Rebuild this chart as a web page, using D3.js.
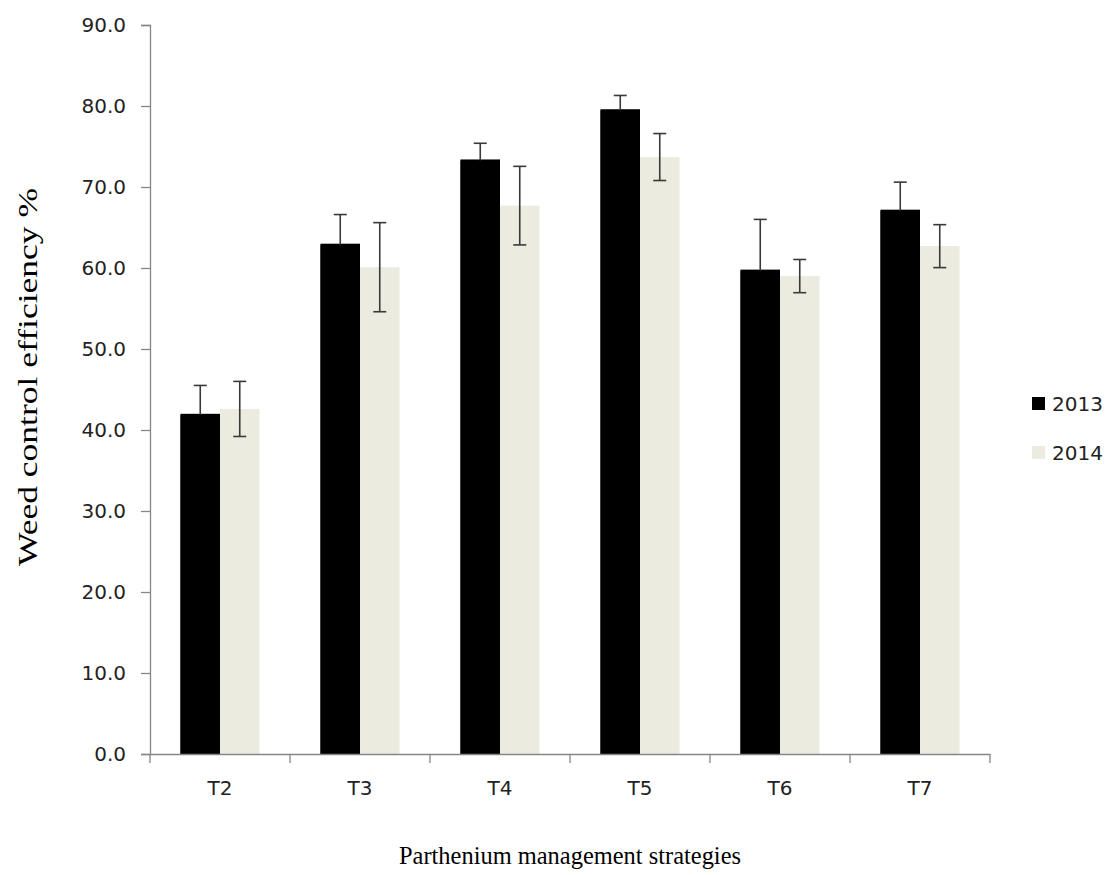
<!DOCTYPE html>
<html>
<head>
<meta charset="utf-8">
<script src="https://cdn.jsdelivr.net/npm/d3@7"></script>
<style>
  body { margin: 0; background: #fff; }
</style>
</head>
<body>
<script>
// data
var categories = ["T2", "T3", "T4", "T5", "T6", "T7"];
var years = ["2013", "2014"];
var values2013 = [42.0, 63.0, 73.4, 79.6, 59.8, 67.2];
var values2014 = [42.6, 60.1, 67.7, 73.7, 59.0, 62.7];
var err2013 = [3.5, 3.6, 2.0, 1.7, 6.2, 3.4];
var err2014 = [3.4, 5.5, 4.85, 2.9, 2.05, 2.65];
var yTicks = [0, 10, 20, 30, 40, 50, 60, 70, 80, 90];
var colors = {"2013": "#000000", "2014": "#ecebe0"};

var width = 1109, height = 875;
var plotLeft = 150, plotRight = 990, plotTop = 25, plotBottom = 754;

var svg = d3.select("body").append("svg")
    .attr("width", width)
    .attr("height", height);

var x0 = d3.scaleBand().domain(categories).range([plotLeft, plotRight])
    .paddingInner(0.4357).paddingOuter(0.4357 / 2);
var x1 = d3.scaleBand().domain(years).range([0, x0.bandwidth()]);
var y = d3.scaleLinear().domain([0, 90]).range([plotBottom, plotTop]);

var rows = categories.map(function(c, i) {
  return {cat: c, bars: [
    {year: "2013", v: values2013[i], e: err2013[i]},
    {year: "2014", v: values2014[i], e: err2014[i]}
  ]};
});

// bars
var g = svg.selectAll("g.cat").data(rows).enter().append("g")
    .attr("class", "cat")
    .attr("transform", function(d) { return "translate(" + x0(d.cat) + ",0)"; });

g.selectAll("rect.bar").data(function(d) { return d.bars; }).enter().append("rect")
    .attr("class", "bar")
    .attr("x", function(d) { return x1(d.year); })
    .attr("y", function(d) { return y(d.v); })
    .attr("width", x1.bandwidth())
    .attr("height", function(d) { return y(0) - y(d.v); })
    .attr("fill", function(d) { return colors[d.year]; });

// error bars
var eb = g.selectAll("g.err").data(function(d) { return d.bars; }).enter().append("g")
    .attr("class", "err")
    .attr("stroke", "#3a3a3a")
    .attr("stroke-width", 1.6);
eb.append("line")
    .attr("x1", function(d) { return x1(d.year) + x1.bandwidth() / 2; })
    .attr("x2", function(d) { return x1(d.year) + x1.bandwidth() / 2; })
    .attr("y1", function(d) { return y(d.v - d.e); })
    .attr("y2", function(d) { return y(d.v + d.e); });
eb.append("line")
    .attr("x1", function(d) { return x1(d.year) + x1.bandwidth() / 2 - 6.5; })
    .attr("x2", function(d) { return x1(d.year) + x1.bandwidth() / 2 + 6.5; })
    .attr("y1", function(d) { return y(d.v + d.e); })
    .attr("y2", function(d) { return y(d.v + d.e); });
eb.append("line")
    .attr("x1", function(d) { return x1(d.year) + x1.bandwidth() / 2 - 6.5; })
    .attr("x2", function(d) { return x1(d.year) + x1.bandwidth() / 2 + 6.5; })
    .attr("y1", function(d) { return y(d.v - d.e); })
    .attr("y2", function(d) { return y(d.v - d.e); });

// black bars hide their own lower whisker
g.selectAll("rect.cover").data(function(d) { return d.bars.filter(function(b) { return b.year == "2013"; }); })
    .enter().append("rect")
    .attr("class", "cover")
    .attr("x", function(d) { return x1(d.year); })
    .attr("y", function(d) { return y(d.v) + 1; })
    .attr("width", x1.bandwidth())
    .attr("height", function(d) { return y(0) - y(d.v) - 1; })
    .attr("fill", colors["2013"]);

// y axis
var yAxis = svg.append("g")
    .attr("transform", "translate(" + plotLeft + ",0)")
    .call(d3.axisLeft(y).tickValues(yTicks).tickFormat(d3.format(".1f")).tickSize(9).tickPadding(15));
yAxis.select(".domain").attr("stroke", "#868686").attr("stroke-width", 1.3);
yAxis.selectAll(".tick line").attr("stroke", "#868686").attr("stroke-width", 1.3);
yAxis.selectAll("text")
    .attr("font-family", "DejaVu Sans")
    .attr("font-size", "20px")
    .attr("fill", "#222");

// x axis
var xAxis = svg.append("g")
    .attr("transform", "translate(0," + plotBottom + ")")
    .call(d3.axisBottom(x0).tickSize(0).tickPadding(27));
xAxis.select(".domain").attr("stroke", "#868686").attr("stroke-width", 1.3);
xAxis.selectAll("text")
    .attr("font-family", "DejaVu Sans")
    .attr("font-size", "20px")
    .attr("fill", "#222");
// ticks between categories
var bounds = categories.map(function(c) { return x0(c) - x0.step() * x0.paddingInner() / 2; });
bounds.push(plotRight);
xAxis.selectAll("line.sep").data(bounds).enter().append("line")
    .attr("class", "sep")
    .attr("x1", function(d) { return d; })
    .attr("x2", function(d) { return d; })
    .attr("y1", 0).attr("y2", 9)
    .attr("stroke", "#868686").attr("stroke-width", 1.3);

// axis titles
svg.append("text")
    .attr("transform", "translate(37,377) rotate(-90)")
    .attr("text-anchor", "middle")
    .attr("font-family", "Liberation Serif")
    .attr("font-size", "28px")
    .attr("textLength", 378)
    .attr("lengthAdjust", "spacingAndGlyphs")
    .attr("fill", "#000")
    .text("Weed control efficiency %");

svg.append("text")
    .attr("x", 570)
    .attr("y", 864)
    .attr("text-anchor", "middle")
    .attr("font-family", "Liberation Serif")
    .attr("font-size", "26px")
    .attr("textLength", 342)
    .attr("lengthAdjust", "spacingAndGlyphs")
    .attr("fill", "#000")
    .text("Parthenium management strategies");

// legend
var legend = svg.selectAll("g.legend").data(years).enter().append("g")
    .attr("class", "legend")
    .attr("transform", function(d, i) { return "translate(1032," + (397 + i * 49) + ")"; });
legend.append("rect")
    .attr("width", 13).attr("height", 13)
    .attr("fill", function(d) { return colors[d]; });
legend.append("text")
    .attr("x", 20).attr("y", 14)
    .attr("font-family", "DejaVu Sans")
    .attr("font-size", "20px")
    .attr("fill", "#222")
    .text(function(d) { return d; });
</script>
</body>
</html>
